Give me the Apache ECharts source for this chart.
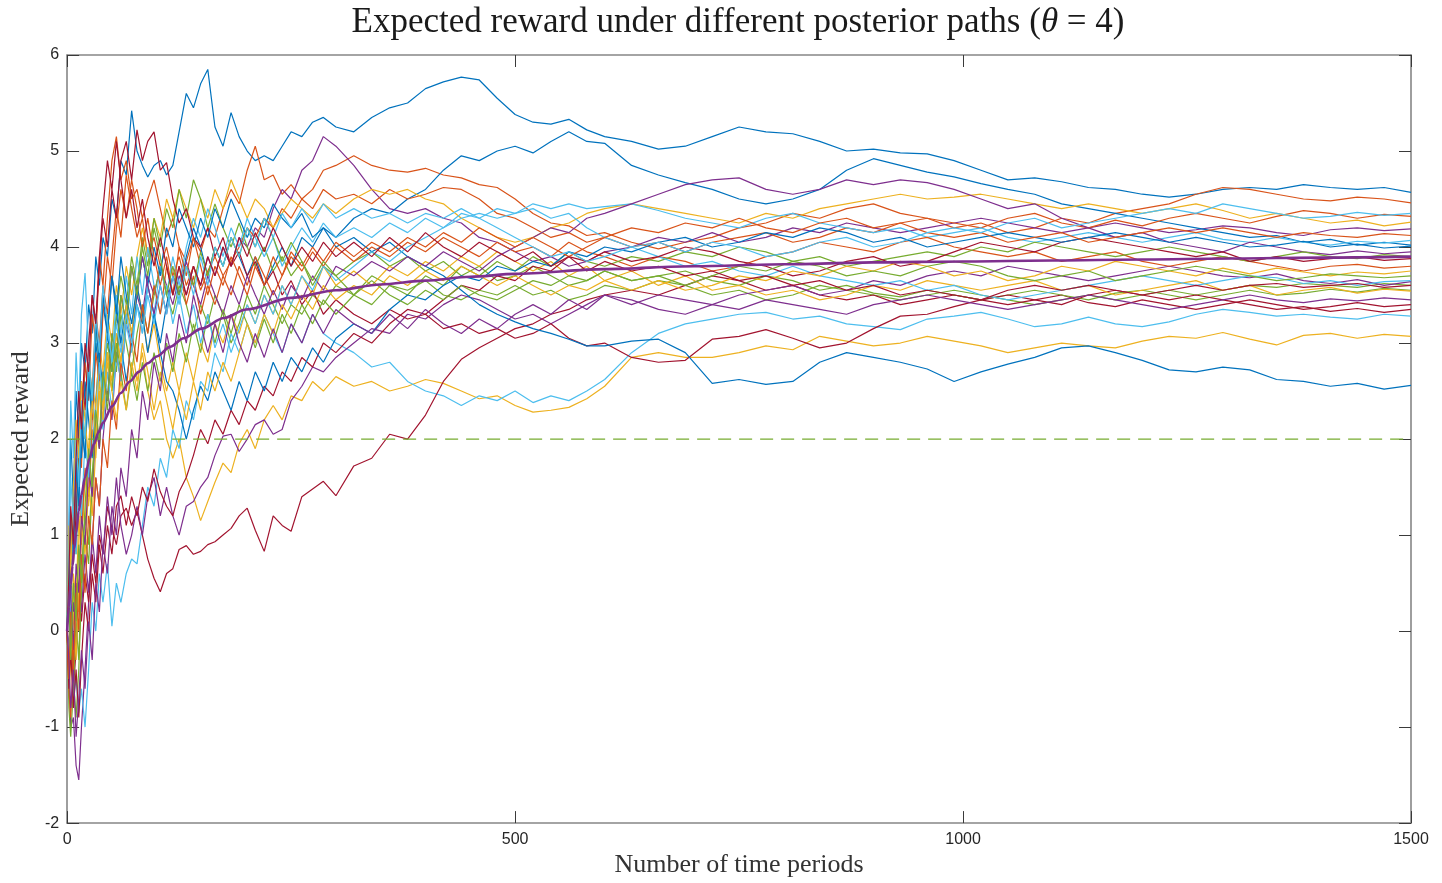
<!DOCTYPE html>
<html>
<head>
<meta charset="utf-8">
<title>Expected reward under different posterior paths</title>
<script src="https://cdn.jsdelivr.net/npm/echarts@6/dist/echarts.min.js"></script>
<style>
  html, body { margin: 0; padding: 0; background: #ffffff; }
  #chart { width: 1442px; height: 883px; }
</style>
</head>
<body>
<div id="chart"></div>
<script>
// Time periods at which every simulated posterior path is recorded
const periods = [0,2,4,7,10,13,16,20,24,28,32,36,40,45,50,55,60,66,72,78,84,90,97,104,111,118,125,133,141,149,157,165,174,183,192,201,210,220,230,240,250,262,274,286,300,
  320,340,360,380,400,420,440,460,480,500,520,540,560,580,600,
  630,660,690,720,750,780,810,840,870,900,930,960,990,1020,1050,1080,1110,1140,1170,1200,1230,1260,1290,1320,1350,1380,1410,1440,1470,1500];

// Expected reward along each posterior path
const path01 = [0,0.9,2.0,1.4,2.5,2.1,3.0,2.7,3.4,3.1,3.9,3.6,4.1,3.9,4.5,4.3,4.9,4.75,5.42,5.0,4.85,4.73,4.85,4.9,4.75,4.85,5.2,5.6,5.45,5.7,5.85,5.25,5.05,5.4,5.15,5.0,4.9,4.95,4.9,5.05,5.2,5.15,5.3,5.35,5.25,
  5.2,5.35,5.45,5.5,5.65,5.72,5.77,5.74,5.55,5.38,5.3,5.28,5.33,5.22,5.15,
  5.1,5.02,5.05,5.15,5.25,5.2,5.18,5.1,5.0,5.02,4.98,4.97,4.9,4.8,4.7,4.72,4.68,4.62,4.6,4.55,4.52,4.55,4.6,4.62,4.6,4.65,4.62,4.6,4.62,4.57];
const path02 = [0,-0.3,0.5,1.3,0.9,2.0,1.7,2.8,2.4,3.3,3.0,3.9,3.6,4.3,4.9,5.15,4.7,4.9,4.5,4.6,4.3,4.5,4.7,4.4,4.1,4.3,4.0,3.85,4.1,3.95,4.2,4.1,4.4,4.6,4.45,4.8,5.05,4.7,4.75,4.55,4.65,4.5,4.6,4.8,4.85,
  4.95,4.85,4.8,4.78,4.82,4.75,4.72,4.65,4.62,4.5,4.35,4.25,4.22,4.12,4.15,
  4.05,3.98,4.05,4.1,4.2,4.25,4.35,4.3,4.4,4.45,4.35,4.3,4.2,4.25,4.15,4.2,4.3,4.25,4.35,4.4,4.45,4.55,4.62,4.6,4.55,4.5,4.48,4.52,4.5,4.46];
const path03 = [0,-0.6,-0.2,0.6,0.3,1.2,0.9,1.6,1.3,2.1,1.8,2.5,2.2,2.9,2.6,3.1,2.8,3.3,3.0,2.6,2.9,2.5,2.2,2.4,2.0,1.8,2.0,1.6,1.4,1.15,1.35,1.55,1.75,1.65,1.95,2.1,1.9,2.2,2.35,2.2,2.45,2.4,2.6,2.5,2.65,
  2.55,2.6,2.5,2.55,2.62,2.58,2.5,2.42,2.45,2.35,2.28,2.3,2.33,2.42,2.55,
  2.85,2.9,2.85,2.85,2.9,2.97,2.93,3.07,3.02,2.97,3.0,3.07,3.02,2.97,2.9,2.95,3.0,2.97,2.95,3.02,3.07,3.05,3.11,3.04,2.98,3.08,3.1,3.05,3.09,3.07];
const path04 = [0,-0.5,-1.0,-0.9,-1.4,-1.55,-1.0,-0.4,0.3,0.9,1.6,1.3,2.0,2.5,2.2,2.9,2.6,3.2,3.0,3.5,3.3,3.7,3.5,3.8,3.6,3.4,3.7,3.5,3.8,3.6,3.9,3.7,4.0,3.8,4.1,4.0,4.2,4.1,4.4,4.6,4.5,4.8,4.9,5.15,5.05,
  4.85,4.6,4.4,4.35,4.4,4.3,4.25,4.1,4.05,3.95,3.85,3.9,3.8,3.85,3.95,
  4.0,4.1,4.05,4.15,4.05,4.1,4.2,4.15,4.25,4.2,4.15,4.2,4.25,4.3,4.25,4.2,4.15,4.2,4.25,4.2,4.15,4.18,4.22,4.2,4.15,4.12,4.18,4.2,4.17,4.19];
const path05 = [0,0.6,0.2,-0.5,-0.9,-0.4,0.4,1.0,0.7,1.5,2.2,1.9,2.6,2.3,3.0,2.7,3.3,3.0,2.7,3.1,3.4,3.1,3.5,3.8,3.5,3.3,3.6,3.4,3.1,3.4,3.2,3.5,3.3,3.0,3.2,3.5,3.3,3.6,3.4,3.2,3.4,3.3,3.5,3.4,3.6,
  3.5,3.7,3.6,3.55,3.65,3.5,3.45,3.55,3.5,3.6,3.5,3.55,3.45,3.5,3.6,
  3.55,3.65,3.6,3.5,3.55,3.45,3.5,3.6,3.55,3.5,3.45,3.5,3.55,3.5,3.45,3.4,3.45,3.5,3.45,3.5,3.55,3.5,3.55,3.6,3.58,3.62,3.6,3.58,3.62,3.6];
const path06 = [0,-0.4,-0.2,-0.7,-0.5,-0.85,-0.6,-1.0,-0.4,0.3,0.0,0.6,0.3,0.7,0.05,0.5,0.3,0.6,0.75,0.7,1.1,1.5,1.3,1.8,1.6,2.1,1.9,2.4,2.2,2.6,2.5,2.9,2.7,3.1,2.9,3.2,3.0,3.3,3.1,2.9,3.2,3.0,3.3,3.1,3.0,
  2.9,2.75,2.8,2.6,2.5,2.45,2.35,2.45,2.4,2.5,2.38,2.45,2.4,2.5,2.62,
  2.9,3.1,3.2,3.25,3.3,3.32,3.25,3.28,3.2,3.17,3.14,3.25,3.28,3.32,3.25,3.17,3.2,3.27,3.2,3.17,3.22,3.3,3.35,3.32,3.28,3.3,3.27,3.25,3.3,3.28];
const path07 = [0,-0.5,-0.1,-0.6,-0.2,0.4,0.1,0.6,0.3,0.8,0.5,1.0,0.8,1.3,1.07,0.9,1.2,1.28,1.1,1.25,1.0,0.75,0.55,0.41,0.6,0.65,0.85,0.89,0.8,0.83,0.9,0.93,1.0,1.07,1.2,1.28,1.05,0.83,1.2,1.1,1.04,1.4,1.48,1.56,1.41,
  1.72,1.8,2.05,2.0,2.25,2.6,2.83,2.95,3.05,3.15,3.2,3.3,3.35,3.45,3.5,
  3.55,3.5,3.6,3.7,3.65,3.55,3.6,3.5,3.45,3.5,3.4,3.45,3.5,3.45,3.4,3.45,3.5,3.42,3.38,3.45,3.4,3.35,3.4,3.45,3.4,3.35,3.38,3.42,3.38,3.4];
const path08 = [0,1.0,0.5,1.6,1.1,2.2,1.8,2.6,2.2,1.8,2.4,2.9,2.5,3.1,2.7,3.3,3.0,2.6,3.0,3.4,3.2,3.6,3.3,3.0,3.4,3.7,3.5,3.9,4.2,4.0,3.7,4.0,3.8,4.1,3.9,3.7,3.9,3.6,3.8,4.0,3.8,4.1,4.0,4.2,4.1,
  4.3,4.4,4.35,4.5,4.6,4.8,4.95,4.9,5.0,5.05,4.98,5.1,5.2,5.1,5.08,
  4.85,4.75,4.67,4.6,4.5,4.45,4.5,4.6,4.8,4.92,4.85,4.78,4.73,4.66,4.6,4.55,4.45,4.4,4.35,4.3,4.25,4.2,4.15,4.1,4.12,4.05,4.08,4.02,4.05,4.02];
const path09 = [0,0.4,1.1,0.7,1.6,1.3,2.3,2.0,2.8,2.5,3.3,3.0,3.6,3.3,3.9,4.4,4.1,4.75,4.4,4.1,4.3,3.9,4.1,3.8,4.0,3.7,3.9,3.6,3.8,3.55,3.75,3.9,3.7,3.85,4.0,4.2,4.1,4.3,4.2,4.4,4.3,4.5,4.4,4.6,4.5,
  4.55,4.45,4.6,4.5,4.55,4.62,4.6,4.5,4.35,4.3,4.2,4.1,4.15,4.05,4.1,
  4.0,4.05,3.95,4.05,4.1,4.15,4.05,4.1,4.2,4.15,4.25,4.3,4.25,4.2,4.3,4.35,4.25,4.2,4.28,4.22,4.3,4.35,4.3,4.25,4.32,4.38,4.35,4.3,4.34,4.32];
const path10 = [0,-0.7,-0.3,0.4,0.1,0.9,1.4,1.1,1.9,2.6,2.3,3.0,2.7,3.3,3.0,3.6,3.3,3.8,3.5,3.9,4.2,3.9,4.3,4.1,4.5,4.3,4.6,4.4,4.2,4.5,4.3,4.6,4.4,4.7,4.5,4.3,4.5,4.4,4.2,4.35,4.5,4.4,4.3,4.45,4.35,
  4.5,4.6,4.55,4.6,4.5,4.45,4.3,4.2,4.1,4.05,4.1,4.2,4.25,4.35,4.4,
  4.45,4.4,4.35,4.3,4.25,4.35,4.3,4.4,4.45,4.5,4.55,4.5,4.52,4.55,4.5,4.45,4.4,4.45,4.4,4.35,4.4,4.45,4.38,4.3,4.35,4.3,4.25,4.28,4.22,4.26];
const path11 = [0,0.5,-0.3,0.3,-0.2,0.5,0.2,0.8,0.4,1.0,0.6,1.2,0.8,1.4,1.0,1.6,1.1,0.8,1.0,1.3,1.0,1.4,1.6,1.2,1.5,1.2,1.0,1.3,1.35,1.5,1.6,1.83,2.03,2.05,1.87,2.0,2.15,2.2,2.05,2.1,2.4,2.55,2.75,2.7,2.85,
  3.0,3.15,3.1,3.3,3.25,3.4,3.5,3.45,3.35,3.25,3.3,3.2,3.3,3.4,3.5,
  3.45,3.35,3.3,3.4,3.5,3.55,3.6,3.5,3.55,3.65,3.6,3.7,3.75,3.7,3.8,3.75,3.7,3.65,3.7,3.75,3.8,3.75,3.7,3.68,3.72,3.65,3.62,3.66,3.6,3.64];
const path12 = [0,-0.8,-1.1,-0.6,0.1,-0.3,0.6,1.2,0.9,1.6,2.2,1.9,2.6,3.0,2.7,3.3,3.7,3.4,3.9,3.6,4.1,3.8,4.3,4.0,4.4,4.2,4.6,4.3,4.7,4.5,4.2,4.45,4.2,4.0,4.25,4.0,3.8,4.0,3.75,3.9,3.7,3.85,3.6,3.8,3.7,
  3.85,3.95,3.8,3.9,3.75,3.85,3.7,3.8,3.65,3.7,3.8,3.7,3.6,3.65,3.75,
  3.65,3.7,3.75,3.65,3.6,3.7,3.65,3.55,3.6,3.52,3.48,3.55,3.5,3.45,3.5,3.55,3.5,3.45,3.52,3.55,3.5,3.45,3.5,3.55,3.5,3.52,3.56,3.53,3.57,3.55];
const path13 = [0,1.2,2.4,1.8,2.9,2.3,3.3,3.73,2.9,2.4,3.1,2.6,2.1,2.7,2.3,2.9,2.6,3.2,2.9,3.4,3.1,3.6,3.3,3.8,3.5,3.9,3.6,4.0,4.3,4.1,4.4,4.2,3.9,4.2,4.0,4.3,4.1,3.9,4.1,3.8,4.0,4.2,4.05,4.25,4.1,
  4.2,4.1,4.25,4.15,4.3,4.2,4.35,4.3,4.4,4.35,4.45,4.4,4.45,4.4,4.42,
  4.45,4.38,4.3,4.25,4.2,4.3,4.35,4.25,4.2,4.15,4.2,4.1,4.15,4.2,4.1,4.05,4.1,4.15,4.1,4.05,4.1,4.15,4.08,4.05,4.1,4.05,4.02,4.06,4.04,4.07];
const path14 = [0,-0.2,0.6,1.4,1.0,2.0,2.6,2.3,3.0,3.5,3.2,3.8,4.3,4.0,4.6,4.3,4.9,5.1,4.7,5.22,4.9,5.1,5.2,4.8,4.88,4.5,4.25,4.4,4.1,4.0,4.2,3.9,4.1,3.8,3.95,3.7,3.85,3.6,3.75,3.5,3.65,3.4,3.55,3.3,3.45,
  3.3,3.2,3.35,3.25,3.3,3.15,3.2,3.1,3.15,3.05,3.1,3.2,3.05,2.97,3.0,
  2.85,2.8,2.82,3.04,3.07,3.14,3.05,2.95,3.0,3.15,3.28,3.3,3.38,3.45,3.5,3.45,3.4,3.5,3.55,3.5,3.45,3.5,3.45,3.4,3.35,3.38,3.33,3.36,3.32,3.35];
const path15 = [0,0.7,0.3,1.1,1.8,1.4,2.2,1.8,2.6,2.2,3.0,2.7,3.4,3.1,3.7,3.4,3.0,3.4,3.1,3.5,3.9,3.6,4.0,3.7,4.2,4.0,4.4,4.2,4.0,4.3,4.1,4.4,4.2,4.5,4.3,4.1,4.3,4.2,4.45,4.3,4.2,4.35,4.1,4.2,4.0,
  4.1,3.95,4.05,3.9,3.8,3.7,3.55,3.4,3.3,3.22,3.15,3.1,3.04,2.97,2.97,
  3.02,3.04,2.9,2.58,2.62,2.57,2.6,2.8,2.9,2.85,2.8,2.73,2.6,2.7,2.78,2.85,2.95,2.97,2.9,2.82,2.72,2.7,2.75,2.72,2.62,2.6,2.55,2.58,2.52,2.56];
const path16 = [0,-0.6,-0.9,-0.3,0.5,0.2,1.0,1.7,1.4,2.2,2.9,2.6,3.3,3.9,3.6,4.2,4.6,4.3,4.7,4.4,4.0,4.3,3.9,3.6,3.9,3.5,3.8,3.4,3.7,3.3,3.6,3.4,3.7,3.5,3.8,3.6,3.9,3.7,3.5,3.7,3.9,3.75,3.95,3.8,4.0,
  3.85,4.0,3.9,4.05,3.95,4.1,4.0,3.9,4.05,3.95,4.0,3.9,4.05,3.95,3.9,
  3.8,3.9,3.85,3.75,3.8,3.9,3.95,4.05,4.0,3.95,4.05,4.1,4.0,3.95,3.9,3.95,3.85,3.9,3.95,3.85,3.8,3.85,3.9,3.85,3.8,3.75,3.8,3.82,3.78,3.8];
const path17 = [0,0.3,-0.4,0.2,-0.3,0.5,1.1,0.8,1.5,1.2,1.9,2.5,2.2,2.8,2.5,3.1,2.8,3.4,3.1,3.6,3.3,2.9,3.2,2.8,2.5,2.8,2.5,2.9,2.6,3.0,2.8,3.2,3.0,3.3,3.1,3.4,3.2,3.5,3.3,3.6,3.4,3.7,3.5,3.8,3.6,
  3.75,3.6,3.8,3.7,3.85,3.75,3.9,3.8,3.95,3.85,3.75,3.85,3.7,3.8,3.65,
  3.75,3.6,3.7,3.55,3.6,3.5,3.55,3.45,3.5,3.6,3.55,3.65,3.6,3.55,3.6,3.65,3.55,3.6,3.5,3.55,3.6,3.65,3.55,3.6,3.5,3.55,3.58,3.52,3.56,3.54];
const path18 = [0,-0.4,0.4,-0.2,0.7,0.4,1.2,0.9,1.7,1.4,2.2,1.9,2.7,2.4,3.1,2.8,3.5,3.2,3.8,3.5,3.9,3.6,3.3,3.6,3.3,3.7,3.5,3.85,3.6,3.4,3.7,3.5,3.3,3.6,3.4,3.7,3.5,3.3,3.55,3.35,3.6,3.45,3.7,3.55,3.8,
  3.7,3.85,3.75,3.9,3.8,3.95,3.85,3.75,3.9,4.0,4.1,4.2,4.15,4.3,4.35,
  4.45,4.55,4.65,4.7,4.72,4.6,4.55,4.6,4.7,4.65,4.7,4.67,4.6,4.5,4.4,4.45,4.3,4.2,4.1,4.15,4.05,4.0,3.95,4.05,4.0,3.95,3.92,3.96,3.93,3.95];
const path19 = [0,0.9,0.4,1.3,0.8,1.7,2.4,2.0,2.8,2.4,3.2,2.8,2.4,2.9,2.5,3.0,2.7,2.3,2.7,2.4,2.8,2.5,2.9,2.6,3.0,2.7,3.1,2.8,3.2,2.9,3.3,3.0,3.35,3.1,3.4,3.2,2.95,3.25,3.0,3.3,3.1,3.4,3.2,3.45,3.3,
  3.5,3.4,3.6,3.5,3.7,3.6,3.8,3.7,3.85,3.75,3.9,3.8,3.95,3.85,3.8,
  3.9,3.85,3.95,3.9,4.0,3.95,3.85,3.9,3.8,3.85,3.9,3.95,3.9,4.0,3.95,4.05,4.0,3.95,3.9,3.95,4.0,3.95,3.9,3.85,3.9,3.95,3.9,3.88,3.92,3.9];
const path20 = [0,-0.3,0.5,1.2,0.8,1.6,1.2,2.0,1.6,2.4,2.0,2.8,2.4,3.2,2.8,3.5,3.1,3.7,3.3,3.9,3.5,4.0,3.6,3.3,3.6,3.2,3.5,3.1,3.4,3.0,3.3,2.95,3.2,2.9,3.15,3.4,3.2,3.5,3.3,3.6,3.4,3.7,3.55,3.8,3.65,
  3.8,3.95,3.85,4.0,4.1,4.2,4.3,4.35,4.3,4.35,4.4,4.3,4.35,4.2,4.1,
  4.0,3.9,3.8,3.85,3.75,3.7,3.8,3.7,3.65,3.6,3.65,3.55,3.6,3.5,3.45,3.5,3.55,3.6,3.65,3.7,3.65,3.6,3.65,3.7,3.68,3.62,3.65,3.6,3.64,3.65];
const path21 = [0,-0.6,-0.2,-0.8,-0.4,-0.9,-0.3,0.3,0.0,0.6,0.3,0.9,0.6,1.1,0.8,1.3,1.41,1.1,1.4,1.2,1.5,1.35,1.69,1.45,1.3,1.2,1.45,1.6,1.83,2.1,1.95,2.2,2.05,2.3,2.15,2.4,2.3,2.55,2.45,2.7,2.6,2.85,2.75,3.0,2.9,
  3.1,3.0,3.2,3.35,3.3,3.45,3.6,3.55,3.7,3.65,3.8,3.75,3.9,3.85,3.95,
  3.85,3.9,4.0,3.95,3.85,3.8,3.7,3.75,3.85,3.9,3.8,3.85,3.95,4.05,4.0,3.95,4.05,4.1,4.05,4.0,3.95,3.9,3.95,3.85,3.9,3.85,3.88,3.9,3.86,3.88];
const path22 = [0,0.5,1.2,0.8,1.7,1.3,2.2,1.8,2.7,2.3,3.2,2.8,3.5,3.1,3.7,3.3,3.9,3.5,3.2,3.6,3.3,2.9,3.3,2.9,2.6,2.5,2.3,2.0,2.3,2.55,2.4,2.7,2.5,2.3,2.6,2.4,2.7,2.5,2.8,2.6,2.85,2.7,2.95,2.8,3.05,
  3.2,3.1,3.35,3.5,3.45,3.6,3.7,3.65,3.8,3.75,3.85,3.8,3.95,3.9,4.0,
  3.95,4.05,4.1,4.0,4.05,4.15,4.1,4.2,4.15,4.05,4.1,4.0,4.05,4.1,4.15,4.1,4.05,4.1,4.15,4.1,4.05,4.1,4.05,4.0,4.02,4.06,4.0,4.03,3.99,4.01];
const path23 = [0,-0.5,0.2,-0.4,0.4,0.0,0.8,0.4,1.2,0.9,1.6,1.3,2.0,1.7,2.4,2.1,2.8,2.5,3.1,2.8,3.4,3.1,3.6,3.3,3.8,3.5,4.0,3.7,4.1,3.8,3.5,3.8,3.6,3.9,3.7,3.5,3.8,3.6,3.9,3.7,3.95,3.8,4.0,3.85,4.05,
  3.9,4.05,3.95,4.1,4.0,4.15,4.05,4.2,4.1,4.0,4.1,4.0,3.9,4.0,4.1,
  4.2,4.15,4.25,4.2,4.3,4.2,4.15,4.25,4.3,4.2,4.25,4.15,4.1,4.15,4.05,4.1,4.15,4.05,4.1,4.15,4.2,4.15,4.2,4.15,4.1,4.15,4.12,4.1,4.14,4.12];
const path24 = [0,1.1,0.6,1.5,2.2,1.8,2.6,2.2,1.8,2.4,2.0,2.6,2.3,2.9,2.5,2.2,2.6,2.3,2.8,2.5,3.0,2.7,2.3,2.7,2.4,2.1,2.5,2.2,2.6,2.3,2.7,2.5,2.8,2.6,2.9,3.2,3.0,3.3,3.1,3.4,3.25,3.5,3.35,3.6,3.45,
  3.6,3.5,3.7,3.6,3.75,3.65,3.8,3.7,3.6,3.7,3.6,3.5,3.6,3.55,3.65,
  3.55,3.65,3.55,3.6,3.7,3.65,3.75,3.7,3.8,3.75,3.85,3.8,3.7,3.75,3.65,3.7,3.8,3.75,3.85,3.8,3.75,3.7,3.78,3.72,3.78,3.74,3.7,3.74,3.72,3.75];
const path25 = [0,-0.3,-0.8,-0.4,-1.1,-0.7,-0.2,-0.6,0.1,-0.3,0.5,0.2,0.9,0.6,1.3,1.0,1.7,1.4,2.1,1.8,2.5,2.2,2.8,2.5,3.1,2.8,3.3,3.0,3.5,3.2,2.9,3.2,2.9,3.3,3.0,2.8,3.1,2.85,3.15,2.9,3.2,3.0,3.3,3.1,3.35,
  3.2,3.1,3.3,3.15,3.35,3.2,3.1,3.25,3.15,3.3,3.4,3.3,3.45,3.35,3.5,
  3.4,3.5,3.45,3.4,3.35,3.45,3.4,3.35,3.3,3.4,3.45,3.5,3.45,3.4,3.35,3.4,3.45,3.5,3.45,3.4,3.35,3.4,3.45,3.5,3.45,3.42,3.46,3.44,3.47,3.45];
const path26 = [0,0.4,-0.3,0.5,0.1,0.9,0.5,1.3,1.9,1.5,2.3,2.0,2.7,2.4,3.1,2.8,3.5,3.2,3.8,3.5,4.0,3.7,4.2,3.9,3.5,3.8,3.5,3.8,3.6,3.95,3.7,4.0,3.8,4.1,3.9,4.2,4.0,4.3,4.1,3.85,4.05,3.85,3.65,3.85,3.7,
  3.5,3.65,3.5,3.4,3.55,3.45,3.6,3.5,3.45,3.55,3.65,3.6,3.7,3.65,3.75,
  3.65,3.7,3.6,3.7,3.8,3.75,3.85,3.8,3.7,3.75,3.7,3.8,3.85,3.8,3.7,3.65,3.7,3.75,3.65,3.7,3.75,3.8,3.75,3.7,3.65,3.68,3.72,3.7,3.68,3.7];
const path27 = [0,0.8,1.6,1.1,2.0,1.5,2.4,2.0,2.8,2.4,3.3,2.9,3.6,3.2,2.8,3.2,2.9,3.3,3.0,3.4,3.1,3.5,3.2,3.6,3.3,3.7,3.4,3.8,3.5,3.9,3.6,4.0,3.8,4.1,3.9,4.2,4.0,4.3,4.1,4.35,4.2,4.4,4.25,4.45,4.3,
  4.4,4.3,4.35,4.25,4.35,4.3,4.4,4.3,4.2,4.1,4.0,3.9,3.95,3.85,3.9,
  4.0,4.05,3.95,4.05,4.0,3.9,3.95,4.05,4.1,4.0,4.05,4.15,4.2,4.15,4.25,4.3,4.2,4.25,4.3,4.35,4.4,4.35,4.45,4.4,4.35,4.3,4.32,4.36,4.33,4.35];
const path28 = [0,0.6,1.3,0.9,1.8,2.5,2.1,3.0,2.7,3.5,3.2,3.9,4.4,4.9,4.6,5.1,4.7,4.3,4.6,4.2,4.5,4.1,3.8,4.1,3.8,3.5,3.8,3.5,3.8,3.6,3.9,3.7,4.0,3.8,4.1,3.9,4.15,3.95,4.2,4.0,3.8,4.0,3.85,4.05,3.9,
  4.05,3.9,4.1,3.95,4.15,4.0,3.9,4.05,3.95,3.85,3.95,3.8,3.9,3.75,3.85,
  3.75,3.8,3.7,3.75,3.65,3.7,3.6,3.65,3.55,3.6,3.5,3.55,3.5,3.45,3.55,3.6,3.55,3.6,3.55,3.5,3.55,3.6,3.55,3.6,3.62,3.58,3.6,3.62,3.58,3.6];

// Expected reward averaged over paths (smooth curve)
const meanPeriods = [0,2,4,6,8,10,13,16,20,25,30,35,40,50,60,70,80,90,100,115,130,150,175,200,250,300,350,400,450,500,600,700,800,900,1000,1100,1200,1300,1400,1500];
const meanReward  = [0,0.25,0.48,0.68,0.86,1.02,1.25,1.42,1.60,1.80,1.95,2.07,2.17,2.34,2.48,2.60,2.70,2.79,2.86,2.96,3.05,3.15,3.26,3.35,3.47,3.55,3.61,3.65,3.69,3.72,3.77,3.80,3.82,3.84,3.85,3.86,3.87,3.88,3.89,3.90];

// Reference level drawn as a dashed line
const thresholdLevel = 2;

// Axis ranges and ticks
const xTicks = { min: 0, max: 1500, step: 500 };
const yTicks = { min: -2, max: 6, step: 1 };

const paths = [path01,path02,path03,path04,path05,path06,path07,path08,path09,path10,path11,path12,path13,path14,
               path15,path16,path17,path18,path19,path20,path21,path22,path23,path24,path25,path26,path27,path28];

// MATLAB default line colour order
const lineColors = ['#0072BD','#D95319','#EDB120','#7E2F8E','#77AC30','#4DBEEE','#A2142F'];

const chart = echarts.init(document.getElementById('chart'), null, { renderer: 'canvas' });

const boxColor = '#868686';
const tickColor = '#3a3a3a';
const labelFont = 'Liberation Sans';
const serifFont = 'Liberation Serif';

const series = paths.map((vals, k) => ({
  type: 'line',
  name: 'path' + (k + 1),
  data: periods.map((t, i) => [t, vals[i]]),
  showSymbol: false,
  symbol: 'none',
  silent: true,
  lineStyle: { color: lineColors[k % lineColors.length], width: 1.2 },
  z: 2
}));

series.push({
  type: 'line',
  name: 'threshold',
  data: [[xTicks.min, thresholdLevel], [xTicks.max, thresholdLevel]],
  symbol: 'none',
  silent: true,
  lineStyle: { color: '#77AC30', width: 1.2, type: [13, 8] },
  z: 3
});

series.push({
  type: 'line',
  name: 'mean',
  data: meanPeriods.map((t, i) => [t, meanReward[i]]),
  symbol: 'none',
  smooth: 0.3,
  smoothMonotone: 'x',
  silent: true,
  lineStyle: { color: '#7E2F8E', width: 2.6 },
  z: 4
});

function boxAxis(extra) {
  return Object.assign({
    type: 'value',
    axisLine: { show: true, onZero: false, lineStyle: { color: boxColor, width: 1.6 } },
    axisTick: { show: true, inside: true, length: 12, lineStyle: { color: tickColor, width: 1 } },
    splitLine: { show: false },
    axisLabel: { show: false }
  }, extra);
}

const plainNumber = v => String(v);

chart.setOption({
  animation: false,
  backgroundColor: '#ffffff',
  grid: { left: 66, right: 31, top: 55, bottom: 57, containLabel: false },
  xAxis: [
    boxAxis({
      position: 'bottom', min: xTicks.min, max: xTicks.max, interval: xTicks.step,
      axisLabel: { show: true, margin: 8, fontSize: 16, color: '#262626', fontFamily: labelFont, formatter: plainNumber },
      name: 'Number of time periods', nameLocation: 'middle', nameGap: 22,
      nameTextStyle: { fontFamily: serifFont, fontSize: 26, color: '#333333' }
    }),
    boxAxis({ position: 'top', min: xTicks.min, max: xTicks.max, interval: xTicks.step })
  ],
  yAxis: [
    boxAxis({
      position: 'left', min: yTicks.min, max: yTicks.max, interval: yTicks.step,
      axisLabel: { show: true, margin: 8, fontSize: 16, color: '#262626', fontFamily: labelFont, formatter: plainNumber },
      name: 'Expected reward', nameLocation: 'middle', nameGap: 27, nameRotate: 90,
      nameTextStyle: { fontFamily: serifFont, fontSize: 26, color: '#333333' }
    }),
    boxAxis({ position: 'right', min: yTicks.min, max: yTicks.max, interval: yTicks.step })
  ],
  graphic: [{
    type: 'text',
    x: 738, y: 23,
    style: {
      text: 'Expected reward under different posterior paths ({it|θ} = 4)',
      fontFamily: serifFont,
      fontSize: 35,
      fill: '#1a1a1a',
      align: 'center',
      verticalAlign: 'middle',
      rich: { it: { fontStyle: 'italic', fontFamily: serifFont, fontSize: 35, fill: '#1a1a1a' } }
    }
  }],
  series: series
});
</script>
</body>
</html>
